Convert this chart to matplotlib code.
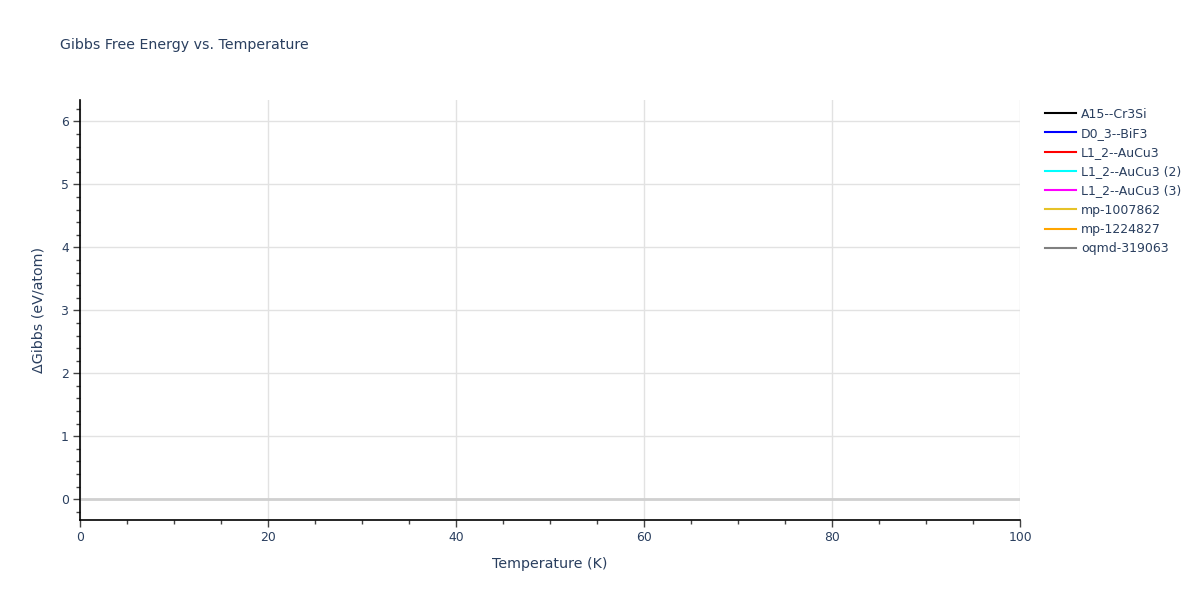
"""
Gibbs free energy vs temperature: plotly-style recreation with matplotlib.
"""
import matplotlib
matplotlib.use("Agg")
import matplotlib.pyplot as plt
from matplotlib.ticker import MultipleLocator

# ─── Data ──────────────────────────────────────────────────────────────────────
# no curve is visible in the reference, only the legend entries
phases = ["A15--Cr3Si", "D0_3--BiF3", "L1_2--AuCu3", "L1_2--AuCu3 (2)",
          "L1_2--AuCu3 (3)", "mp-1007862", "mp-1224827", "oqmd-319063"]
colors = ["black", "blue", "red", "cyan", "magenta", "#E6C229", "orange", "gray"]
temperature = [[] for _ in phases]
delta_gibbs = [[] for _ in phases]

x_range = (0, 100)
y_range = (-0.33, 6.34)

TEXT = "#2a3f5f"
plt.rcParams["font.family"] = ["DejaVu Sans"]

fig = plt.figure(figsize=(12, 6), dpi=100)
ax = fig.add_axes([80 / 1200, 80 / 600, 940 / 1200, 420 / 600])

for name, c, t, g in zip(phases, colors, temperature, delta_gibbs):
    ax.plot(t, g, color=c, lw=1.5, label=name)

ax.set_xlim(*x_range)
ax.set_ylim(*y_range)

# grid + zeroline like plotly
ax.xaxis.set_major_locator(MultipleLocator(20))
ax.xaxis.set_minor_locator(MultipleLocator(5))
ax.yaxis.set_major_locator(MultipleLocator(1))
ax.yaxis.set_minor_locator(MultipleLocator(0.2))
ax.grid(True, which="major", color="#e2e2e2", lw=1)
ax.axhline(0, color="#d0d0d0", lw=2, zorder=1)
ax.set_axisbelow(True)

for s in ["top", "right"]:
    ax.spines[s].set_visible(False)
for s in ["left", "bottom"]:
    ax.spines[s].set_color("black")
    ax.spines[s].set_linewidth(1.2)

ax.tick_params(which="major", length=5, width=1, color="#444444",
               labelsize=8.9, labelcolor=TEXT, pad=3)
ax.tick_params(which="minor", length=3, width=1, color="#444444")

ax.set_xlabel("Temperature (K)", fontsize=10.3, color=TEXT, labelpad=9)
ax.set_ylabel("ΔGibbs (eV/atom)", fontsize=10.3, color=TEXT, labelpad=11)
fig.text(60 / 1200, 1 - 45 / 600, "Gibbs Free Energy vs. Temperature",
         fontsize=10.2, color=TEXT, va="center", ha="left")

leg = ax.legend(loc="upper left", bbox_to_anchor=(1.021, 0.994), frameon=False,
                fontsize=9.0, handlelength=2.5, handletextpad=0.4,
                labelspacing=0.5, borderaxespad=0.0)
for t in leg.get_texts():
    t.set_color(TEXT)

fig.savefig("out.png", dpi=100)
